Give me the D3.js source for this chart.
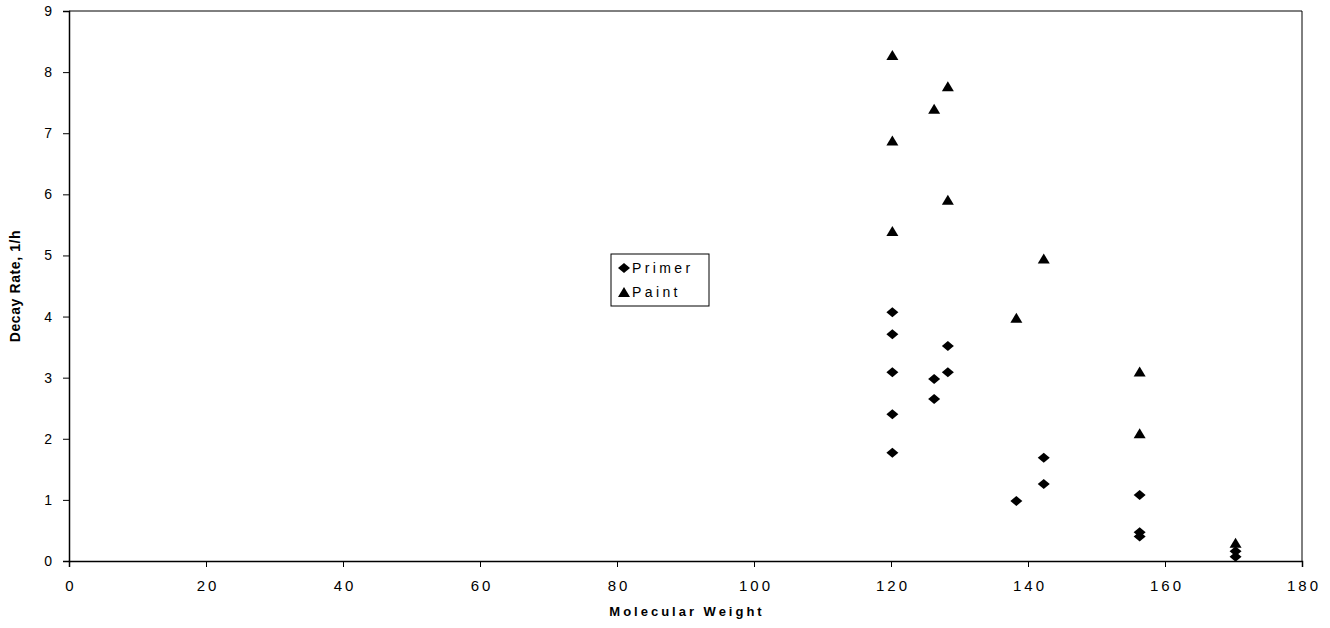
<!DOCTYPE html>
<html>
<head>
<meta charset="utf-8">
<script src="https://cdn.jsdelivr.net/npm/d3@7"></script>
<style>
  body { margin: 0; background: #fff; }
  svg text { font-family: "Liberation Sans", Arial, sans-serif; fill: #000; }
</style>
</head>
<body>
<div id="chart"></div>
<script>
// molecular weight vs decay rate
var primerMW = [120.2, 120.2, 120.2, 120.2, 120.2, 126.3, 126.3, 128.3, 128.3, 138.3, 142.3, 142.3, 156.3, 156.3, 156.3, 170.3, 170.3];
var primerRate = [4.07, 3.71, 3.09, 2.40, 1.77, 2.98, 2.65, 3.52, 3.09, 0.98, 1.69, 1.26, 1.08, 0.47, 0.40, 0.16, 0.07];
var paintMW = [120.2, 120.2, 120.2, 126.3, 128.3, 128.3, 138.3, 142.3, 156.3, 156.3, 170.3];
var paintRate = [8.28, 6.88, 5.40, 7.40, 7.77, 5.91, 3.98, 4.95, 3.10, 2.09, 0.30];
var xTicks = [0, 20, 40, 60, 80, 100, 120, 140, 160, 180];
var yTicks = [0, 1, 2, 3, 4, 5, 6, 7, 8, 9];
var seriesNames = ['Primer', 'Paint'];

var width = 1330, height = 628;
var margin = { left: 69, top: 11, right: 28, bottom: 67 };

var svg = d3.select('#chart').append('svg')
  .attr('width', width)
  .attr('height', height);

var x = d3.scaleLinear().domain([0, 180]).range([margin.left, width - margin.right]);
var y = d3.scaleLinear().domain([0, 9]).range([height - margin.bottom, margin.top]);

// frame (top & right)
svg.append('path')
  .attr('d', 'M' + x(0) + ',' + y(9) + 'H' + x(180) + 'V' + y(0))
  .attr('fill', 'none')
  .attr('stroke', '#000')
  .attr('stroke-width', 1);

var xAxis = svg.append('g')
  .attr('transform', 'translate(0,' + y(0) + ')')
  .call(d3.axisBottom(x).tickValues(xTicks).tickSize(6).tickPadding(13).tickFormat(d3.format('d')));

var yAxis = svg.append('g')
  .attr('transform', 'translate(' + x(0) + ',0)')
  .call(d3.axisLeft(y).tickValues(yTicks).tickSize(6).tickPadding(11).tickFormat(d3.format('d')));

[xAxis, yAxis].forEach(function (g) {
  g.select('.domain').attr('stroke', '#000').attr('stroke-width', 1.5);
  g.selectAll('.tick line').attr('stroke', '#000');
  g.selectAll('.tick text')
    .style('font-family', '"Liberation Sans", Arial, sans-serif');
});
xAxis.selectAll('.tick text')
  .style('font-size', '15px')
  .style('letter-spacing', '3px')
  .attr('dx', '1.5px');
yAxis.selectAll('.tick text')
  .style('font-size', '14px');

svg.append('text')
  .attr('x', (x(0) + x(180)) / 2 + 1.5)
  .attr('y', 616)
  .attr('text-anchor', 'middle')
  .style('font-size', '13px')
  .style('font-weight', 'bold')
  .style('letter-spacing', '3px')
  .text('Molecular Weight');

svg.append('text')
  .attr('transform', 'translate(20,' + (y(4.5)) + ') rotate(-90)')
  .attr('text-anchor', 'middle')
  .style('font-size', '14px')
  .style('font-weight', 'bold')
  .style('letter-spacing', '0.6px')
  .text('Decay Rate, 1/h');

var diamond = 'M0,-5L6,0L0,5L-6,0Z';
var triangle = 'M0,-5L6,5L-6,5Z';

var primer = primerMW.map(function (d, i) { return { mw: d, rate: primerRate[i] }; });
var paint = paintMW.map(function (d, i) { return { mw: d, rate: paintRate[i] }; });

svg.selectAll('.primer')
  .data(primer)
  .enter()
  .append('path')
  .attr('class', 'primer')
  .attr('d', diamond)
  .attr('transform', function (d) { return 'translate(' + x(d.mw) + ',' + y(d.rate) + ')'; })
  .attr('fill', '#000');

svg.selectAll('.paint')
  .data(paint)
  .enter()
  .append('path')
  .attr('class', 'paint')
  .attr('d', triangle)
  .attr('transform', function (d) { return 'translate(' + x(d.mw) + ',' + y(d.rate) + ')'; })
  .attr('fill', '#000');

// legend
var legend = svg.append('g').attr('transform', 'translate(611,254)');
legend.append('rect')
  .attr('width', 98)
  .attr('height', 52)
  .attr('fill', '#fff')
  .attr('stroke', '#000')
  .attr('stroke-width', 1);

var shapes = [diamond, triangle];
seriesNames.forEach(function (name, i) {
  var row = legend.append('g').attr('transform', 'translate(13,' + (14 + i * 24) + ')');
  row.append('path').attr('d', shapes[i]).attr('fill', '#000');
  row.append('text')
    .attr('x', 8)
    .attr('y', 5)
    .style('font-size', '14px')
    .style('letter-spacing', '3.4px')
    .text(name);
});
</script>
</body>
</html>
